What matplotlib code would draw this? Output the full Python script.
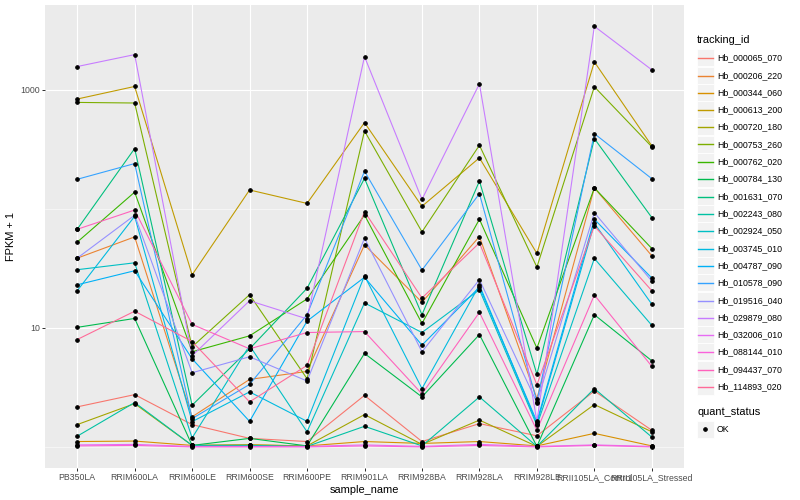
import matplotlib
matplotlib.use('Agg')
import matplotlib.pyplot as plt
from matplotlib.lines import Line2D
from matplotlib.patches import Rectangle
from matplotlib.ticker import FixedLocator, NullFormatter, NullLocator
import numpy as np

plt.rcParams['font.family'] = ['Liberation Sans', 'DejaVu Sans']

samples = ['PB350LA', 'RRIM600LA', 'RRIM600LE', 'RRIM600SE', 'RRIM600PE', 'RRIM901LA',
           'RRIM928BA', 'RRIM928LA', 'RRIM928LE', 'RRII105LA_Control', 'RRII105LA_Stressed']

# FPKM + 1 per gene, one value per sample
hb_000065_070 = [2.17, 2.75, 1.54, 1.18, 1.11, 2.71, 1.11, 1.57, 1.24, 2.95, 1.38]
hb_000206_220 = [38.5, 58.1, 1.79, 3.69, 4.31, 49.8, 16.4, 58.5, 2.55, 150, 40.3]
hb_000344_060 = [1.11, 1.12, 1.03, 1.04, 1.02, 1.11, 1.07, 1.11, 1.02, 1.30, 1.02]
hb_000613_200 = [836, 1066, 27.9, 144, 111, 530, 105, 268, 42.2, 1715, 338]
hb_000720_180 = [1.54, 2.31, 1.03, 1.04, 1.02, 1.87, 1.05, 1.68, 1.01, 2.27, 1.34]
hb_000753_260 = [783, 774, 6.93, 19.0, 3.74, 451, 64.0, 342, 32.4, 1060, 332]
hb_000762_020 = [52.5, 138, 6.30, 8.57, 17.5, 88.7, 10.9, 81.7, 6.76, 150, 46.4]
hb_000784_130 = [10.1, 12.0, 1.03, 1.18, 1.02, 6.10, 2.63, 8.79, 1.01, 12.9, 5.29]
hb_001631_070 = [67.3, 321, 2.24, 6.67, 21.5, 180, 12.9, 171, 4.07, 389, 84.4]
hb_002243_080 = [1.23, 2.36, 1.03, 1.03, 1.01, 1.49, 1.02, 2.63, 1.01, 3.09, 1.21]
hb_002924_050 = [30.8, 35.2, 1.19, 7.11, 1.34, 16.2, 9.14, 20.9, 1.52, 38.3, 10.5]
hb_003745_010 = [20.5, 86.5, 1.63, 2.90, 1.64, 27.4, 3.09, 22.9, 1.57, 75.6, 15.8]
hb_004787_090 = [23.0, 30.2, 5.50, 1.64, 11.4, 26.6, 7.16, 22.0, 1.63, 81.7, 26.2]
hb_010578_090 = [177, 240, 1.73, 3.35, 12.9, 207, 30.6, 134, 2.40, 428, 179]
hb_019516_040 = [38.5, 88.3, 4.20, 5.72, 3.58, 56.6, 6.30, 25.4, 2.36, 92.9, 24.7]
hb_029879_080 = [1567, 1974, 5.83, 16.9, 11.9, 1900, 120, 1122, 1.64, 3412, 1470]
hb_032006_010 = [1.04, 1.05, 1.01, 1.01, 1.01, 1.04, 1.01, 1.05, 1.01, 1.04, 1.01]
hb_088144_010 = [1.02, 1.03, 1.00, 1.00, 1.00, 1.02, 1.00, 1.03, 1.00, 1.03, 1.00]
hb_094437_070 = [67.3, 97.7, 10.7, 6.67, 9.14, 9.31, 2.79, 13.5, 1.38, 18.9, 4.75]
hb_114893_020 = [7.98, 13.8, 7.68, 2.39, 4.84, 94.8, 17.8, 51.8, 3.33, 71.8, 20.5]

tracking_ids = ['Hb_000065_070', 'Hb_000206_220', 'Hb_000344_060', 'Hb_000613_200',
                'Hb_000720_180', 'Hb_000753_260', 'Hb_000762_020', 'Hb_000784_130',
                'Hb_001631_070', 'Hb_002243_080', 'Hb_002924_050', 'Hb_003745_010',
                'Hb_004787_090', 'Hb_010578_090', 'Hb_019516_040', 'Hb_029879_080',
                'Hb_032006_010', 'Hb_088144_010', 'Hb_094437_070', 'Hb_114893_020']
series = [hb_000065_070, hb_000206_220, hb_000344_060, hb_000613_200, hb_000720_180,
          hb_000753_260, hb_000762_020, hb_000784_130, hb_001631_070, hb_002243_080,
          hb_002924_050, hb_003745_010, hb_004787_090, hb_010578_090, hb_019516_040,
          hb_029879_080, hb_032006_010, hb_088144_010, hb_094437_070, hb_114893_020]

# ggplot hue palette, 20 levels
colors = ['#F8766D', '#EA8331', '#D89000', '#C09B00', '#A3A500', '#7CAE00', '#39B600',
          '#00BB4E', '#00BF7D', '#00C1A3', '#00BFC4', '#00BAE0', '#00B0F6', '#35A2FF',
          '#9590FF', '#C77CFF', '#E76BF3', '#FA62DB', '#FF62BC', '#FF6A98']

W, H = 800, 500
fig = plt.figure(figsize=(W / 72, H / 72), dpi=72)
ax = fig.add_axes([45 / W, 1 - 468 / H, (684 - 45) / W, (468 - 5) / H])
ax.set_facecolor('#EBEBEB')
for s in ax.spines.values():
    s.set_visible(False)

x = np.arange(len(samples))
for vals, c in zip(series, colors):
    ax.plot(x, vals, color=c, lw=1.1, zorder=2, solid_capstyle='butt')
for vals in series:
    ax.plot(x, vals, 'o', color='black', ms=3.6, zorder=3)

ax.set_yscale('log')
ax.set_ylim(10 ** -0.177, 10 ** 3.712)
ax.set_xlim(-0.56, len(samples) - 0.44)

ax.set_xticks(x)
ax.set_xticklabels(samples)
ax.xaxis.set_minor_locator(NullLocator())
ax.yaxis.set_major_locator(FixedLocator([10, 1000]))
ax.set_yticklabels(['10', '1000'])
ax.yaxis.set_minor_locator(FixedLocator([1, 100]))
ax.yaxis.set_minor_formatter(NullFormatter())

ax.tick_params(which='major', length=2.75, width=1.0, color='#333333',
               labelsize=8.8, labelcolor='#4D4D4D', pad=2.2)
ax.tick_params(which='minor', length=0)

ax.grid(which='major', color='white', lw=1.1, zorder=0)
ax.grid(which='minor', axis='y', color='white', lw=0.55, zorder=0)
ax.set_axisbelow(True)

ax.set_xlabel('sample_name', fontsize=11, color='black', labelpad=3)
ax.set_ylabel('FPKM + 1', fontsize=11, color='black', labelpad=4)


def fx(px):
    return px / W


def fy(py):
    return 1 - py / H


# legend: tracking_id
fig.text(fx(697), fy(40), 'tracking_id', fontsize=11, va='center', ha='left')
step = 17.3
for i, (tid, c) in enumerate(zip(tracking_ids, colors)):
    yc = round(57.3 + i * step) + 0.5
    fig.add_artist(Rectangle((fx(696.5), fy(yc + 8.5)), 17 / W, 17 / H,
                             transform=fig.transFigure, facecolor='#F2F2F2',
                             edgecolor='white', lw=0.8, zorder=1))
    fig.add_artist(Line2D([fx(698), fx(713)], [fy(yc), fy(yc)],
                          transform=fig.transFigure, color=c, lw=1.4, zorder=2))
    fig.text(fx(717), fy(yc), tid, fontsize=8.8, va='center', ha='left')

# legend: quant_status
fig.text(fx(697), fy(412), 'quant_status', fontsize=11, va='center', ha='left')
fig.add_artist(Rectangle((fx(696.5), fy(429 + 8.5)), 17 / W, 17 / H,
                         transform=fig.transFigure, facecolor='#F2F2F2',
                         edgecolor='white', lw=0.8, zorder=1))
fig.add_artist(Line2D([fx(705)], [fy(429)], transform=fig.transFigure,
                      marker='o', color='black', ms=3.6, lw=0, zorder=2))
fig.text(fx(717), fy(429), 'OK', fontsize=8.8, va='center', ha='left')

fig.savefig('out.png', dpi=72)
